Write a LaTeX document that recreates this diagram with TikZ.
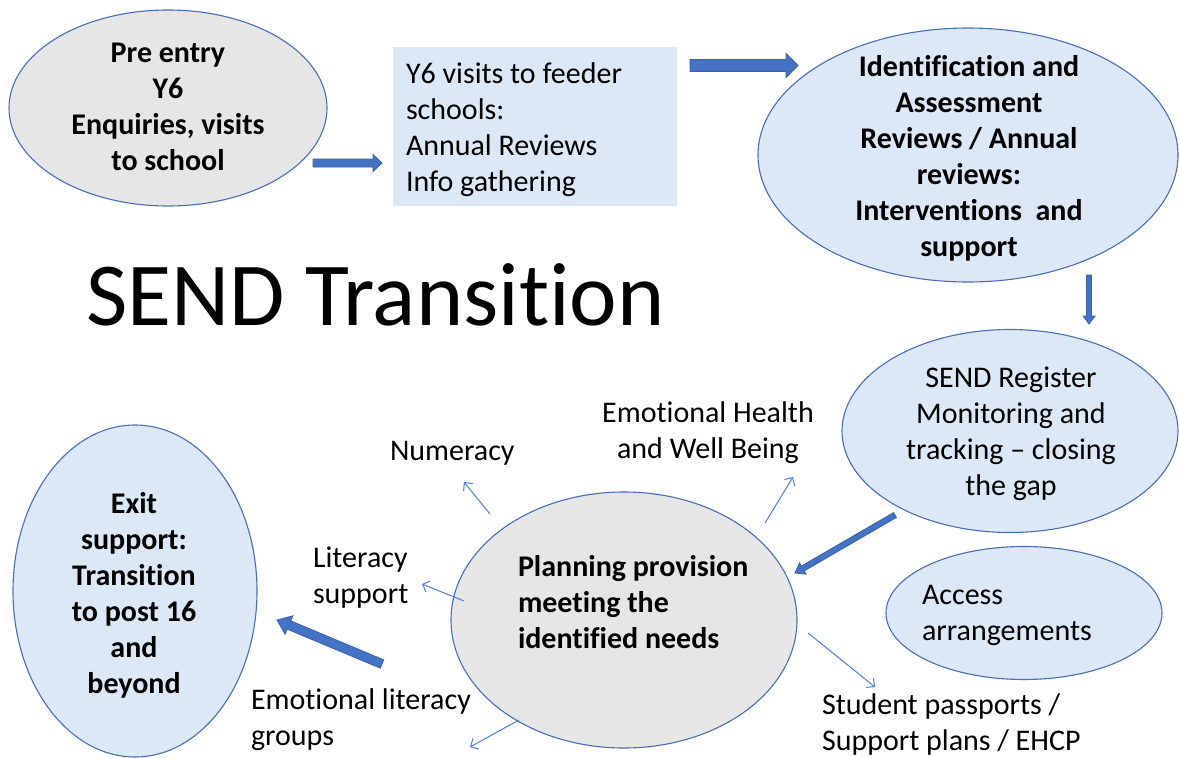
\documentclass[tikz,border=0pt]{standalone}
\usepackage{fontspec}
\setmainfont{Carlito}[Ligatures=NoCommon]
\usetikzlibrary{shapes.geometric,calc,arrows.meta}
\definecolor{grayfill}{HTML}{E6E6E6}
\definecolor{bluefill}{HTML}{DCE8F5}
\definecolor{edge}{HTML}{4A6FB0}
\definecolor{blockfill}{HTML}{4472C4}
\definecolor{blockline}{HTML}{3A62AC}
\definecolor{thinarrow}{HTML}{4F7FD0}
\newcommand\blockarrow[5]{%
  \coordinate (hb) at ($(#2)!#5!(#1)$);
  \filldraw[fill=blockfill, draw=blockline, line width=0.8pt, line join=miter]
    ($(#1)!#3!90:(#2)$) -- ($(hb)!#3!-90:(#1)$) -- ($(hb)!#4!-90:(#1)$) -- (#2)
    -- ($(hb)!#4!90:(#1)$) -- ($(hb)!#3!90:(#1)$) -- ($(#1)!#3!-90:(#2)$) -- cycle;
}
\begin{document}
\begin{tikzpicture}[x=1pt,y=-1pt,
  every node/.style={inner sep=0pt, outer sep=0pt},
  oval/.style={ellipse, draw=edge, line width=1.1pt},
  grayoval/.style={oval, fill=grayfill},
  blueoval/.style={oval, fill=bluefill},
  txt/.style={font=\fontsize{30}{36}\selectfont, text=black},
  btxt/.style={font=\fontsize{30}{36}\selectfont\bfseries, text=black},
  thin arr/.style={draw=thinarrow, line width=1pt, -{Straight Barb[length=6pt,width=12pt]}}
]
\useasboundingbox[fill=white] (0,0) rectangle (1179,758);

% shapes
\node[grayoval, minimum width=318pt, minimum height=196pt] (pre) at (168,108) {};
\node[fill=bluefill, minimum width=284pt, minimum height=159pt] (box) at (535,126.5) {};
\node[blueoval, minimum width=420pt, minimum height=254pt] (ident) at (968,155) {};
\node[blueoval, minimum width=336pt, minimum height=203pt] (send) at (1010,431) {};
\node[blueoval, minimum width=276pt, minimum height=133pt] (access) at (1024,613) {};
\node[grayoval, minimum width=346pt, minimum height=256pt] (plan) at (624,620) {};
\node[blueoval, minimum width=244pt, minimum height=332pt] (exit) at (135,591) {};

% texts in shapes
\node[btxt, align=center] (pre-t) at (168,107) {Pre entry\\Y6\\Enquiries, visits\\to school};
\node[txt, align=left, anchor=west] (box-t) at (406,129.5) {Y6 visits to feeder\\schools:\\Annual Reviews\\Info gathering};
\node[btxt, align=center] (ident-t) at (969,158) {Identification and\\Assessment\\Reviews / Annual\\reviews:\\Interventions\ \ and\\support};
\node[txt, align=center] (send-t) at (1011,434) {SEND Register\\Monitoring and\\tracking -- closing\\the gap};
\node[txt, align=left, anchor=west] (access-t) at (922,615.5) {Access\\arrangements};
\node[btxt, align=left, anchor=west] (plan-t) at (518,602.5) {Planning provision\\meeting the\\identified needs};
\node[btxt, align=center] (exit-t) at (134,595.5) {Exit\\support:\\Transition\\to post 16\\and\\beyond};

% title
\node[font=\fontsize{90}{100}\selectfont, anchor=base west] (title) at (86,325) {SEND Transition};

% labels (base anchor = baseline of last line)
\node[txt, anchor=base west] (num) at (390,460) {Numeracy};
\node[txt, align=center, anchor=base] (ehwb) at (708,458) {Emotional Health\\and Well Being};
\node[txt, align=left, anchor=base west] (lit) at (313,603) {Literacy\\support};
\node[txt, align=left, anchor=base west] (emo) at (251,745) {Emotional literacy\\groups};
\node[txt, align=left, anchor=base west] (stud) at (822,750) {Student passports /\\Support plans / EHCP};

% block arrows
\coordinate (a1s) at (313,163); \coordinate (a1e) at (382,163);
\blockarrow{a1s}{a1e}{4pt}{8.5pt}{9pt}
\coordinate (a2s) at (690,65.5); \coordinate (a2e) at (798,65.5);
\blockarrow{a2s}{a2e}{6pt}{12pt}{12pt}
\coordinate (a3s) at (1089,275); \coordinate (a3e) at (1089,324);
\blockarrow{a3s}{a3e}{2.5pt}{6pt}{8pt}
\coordinate (a4s) at (895,515); \coordinate (a4e) at (795,573);
\blockarrow{a4s}{a4e}{2.8pt}{6.5pt}{9pt}
\coordinate (a5s) at (382,664); \coordinate (a5e) at (277,620);
\blockarrow{a5s}{a5e}{4.5pt}{10pt}{13pt}

% thin arrows
\coordinate (t1s) at (490,514); \coordinate (t1e) at (464,482);
\draw[thin arr] (t1s) -- (t1e);
\coordinate (t2s) at (765,523); \coordinate (t2e) at (793,477);
\draw[thin arr] (t2s) -- (t2e);
\coordinate (t3s) at (464,601); \coordinate (t3e) at (422,584);
\draw[thin arr] (t3s) -- (t3e);
\coordinate (t4s) at (808,633); \coordinate (t4e) at (875,687);
\draw[thin arr] (t4s) -- (t4e);
\coordinate (t5s) at (519,720); \coordinate (t5e) at (470,747);
\draw[thin arr] (t5s) -- (t5e);
\end{tikzpicture}
\end{document}
